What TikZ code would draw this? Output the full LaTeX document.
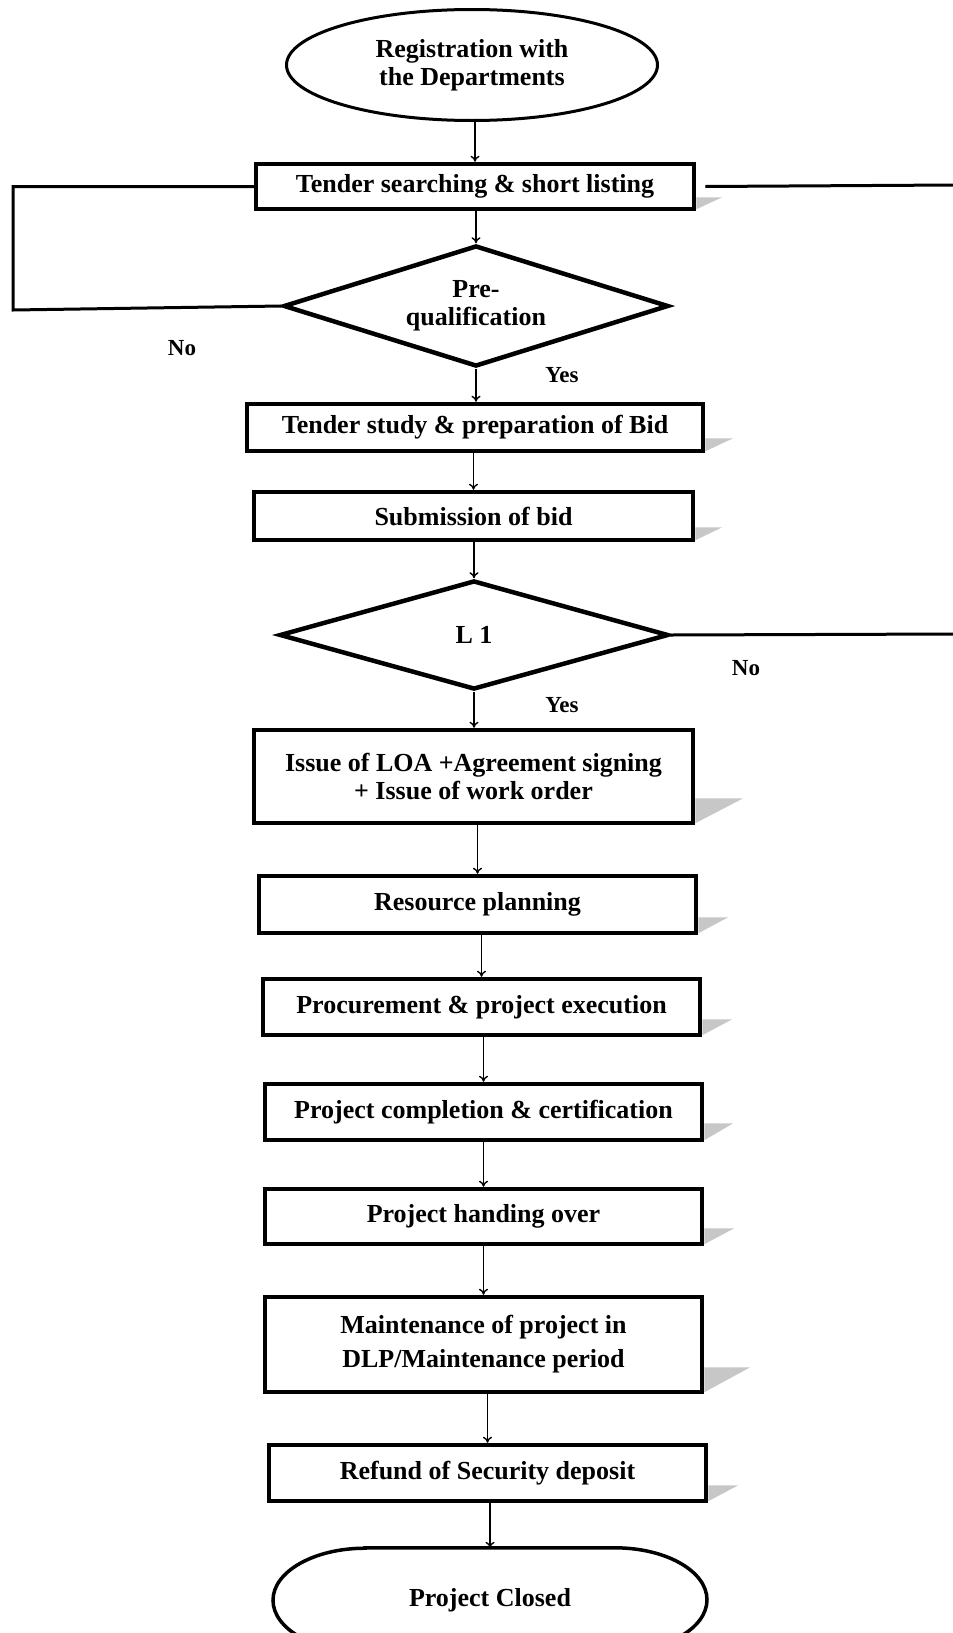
\documentclass[tikz,border=0pt]{standalone}
\usepackage{fontspec}
\setmainfont{Liberation Serif}
\usetikzlibrary{shapes.geometric,arrows.meta}
\begin{document}
\begin{tikzpicture}[x=1pt,y=-1pt,
  txt/.style={font=\bfseries\fontsize{26}{28}\selectfont,align=center},
  box/.style={txt,draw,rectangle,line width=4.5pt,inner sep=0pt},
  dia/.style={txt,draw,diamond,line width=4.5pt,inner sep=0pt},
  lbl/.style={font=\bfseries\fontsize{23}{25}\selectfont,inner sep=0pt},
  arr/.style={-{To[length=6pt,width=9pt]},line width=1.4pt},
  loopline/.style={line width=3pt},
  shade/.style={fill=black!22,draw=none}]
\useasboundingbox (0,0) rectangle (953,1633);
\fill[white] (0,0) rectangle (953,1633);
\clip (0,0) rectangle (953,1633);

% nodes
\node[txt,draw,ellipse,line width=3pt,inner sep=0pt,minimum width=371,minimum height=111] (reg) at (472,65) {Registration with\\the Departments};
\node[box,minimum width=438,minimum height=45] (tender) at (475,186.5) {Tender searching \& short listing};
\node[dia,aspect=3.1,minimum width=385,minimum height=121] (pq) at (476,306) {Pre-\\qualification};
\node[box,minimum width=456,minimum height=47] (study) at (475,427.5) {Tender study \& preparation of Bid};
\node[box,minimum width=439,minimum height=48] (submit) at (473.5,516) {Submission of bid};
\node[dia,aspect=3.5,minimum width=389,minimum height=109] (lone) at (474,635) {L 1};
\node[box,minimum width=439,minimum height=93] (loa) at (473.5,776.5) {Issue of LOA +Agreement signing\\+ Issue of work order};
\node[box,minimum width=437,minimum height=57] (res) at (477.5,904.5) {Resource planning};
\node[box,minimum width=437,minimum height=56] (proc) at (481.5,1007) {Procurement \& project execution};
\node[box,minimum width=437,minimum height=56] (comp) at (483.5,1112) {Project completion \& certification};
\node[box,minimum width=437,minimum height=55] (hand) at (483.5,1216.5) {Project handing over};
\node[box,font=\bfseries\fontsize{26}{34}\selectfont,minimum width=437,minimum height=95] (maint) at (483.5,1344.5) {Maintenance of project in\\DLP/Maintenance period};
\node[box,minimum width=437,minimum height=56] (refund) at (487.5,1473) {Refund of Security deposit};
\node[txt,inner sep=0pt,minimum width=430,minimum height=104] (closed) at (490,1600) {Project Closed};
\draw[line width=3.5pt] ([xshift=-125]closed.north) -- ([xshift=125]closed.north)
  arc[start angle=-90,end angle=90,x radius=92,y radius=52]
  -- ([xshift=-125]closed.south)
  arc[start angle=90,end angle=270,x radius=92,y radius=52] -- cycle;

% labels
\node[lbl] (no1) at (182,348) {No};
\node[lbl] (yes1) at (562,375) {Yes};
\node[lbl] (no2) at (746,668) {No};
\node[lbl] (yes2) at (562,705) {Yes};

% shadows
\foreach \n/\h/\w in {tender/12/26, study/13/28, submit/13/27, loa/25/48, res/16/30, proc/16/30, comp/17/29, hand/16/30, maint/25/46, refund/16/30}{
  \fill[shade] ([yshift=2]\n.south east) -- ++(0,-\h) -- ++(\w,0) -- cycle;
}

% connectors
\draw[arr] (reg.south -| tender.north) -- (tender.north);
\draw[arr] (tender.south -| pq.north) -- (pq.north);
\draw[arr] (pq.south) -- (pq.south |- study.north);
\draw[arr] (study.south -| submit.north) -- (submit.north);
\draw[arr] (submit.south -| lone.north) -- (lone.north);
\draw[arr] (lone.south) -- (lone.south |- loa.north);
\draw[arr] (loa.south -| res.north) -- (res.north);
\draw[arr] (res.south -| proc.north) -- (proc.north);
\draw[arr] (proc.south -| comp.north) -- (comp.north);
\draw[arr] (comp.south -| hand.north) -- (hand.north);
\draw[arr] (hand.south -| maint.north) -- (maint.north);
\draw[arr] (maint.south -| refund.north) -- (refund.north);
\draw[arr] (refund.south -| closed.north) -- (closed.north);

% loops
\coordinate (lc) at (13,310);
\draw[loopline] (pq.west) -- (lc) |- (tender.west);
\coordinate (rt) at (955,185);
\draw[loopline] ([xshift=9]tender.east) -- (rt);
\coordinate (rl) at (955,634);
\draw[loopline] (lone.east) -- (rl);
\end{tikzpicture}
\end{document}
